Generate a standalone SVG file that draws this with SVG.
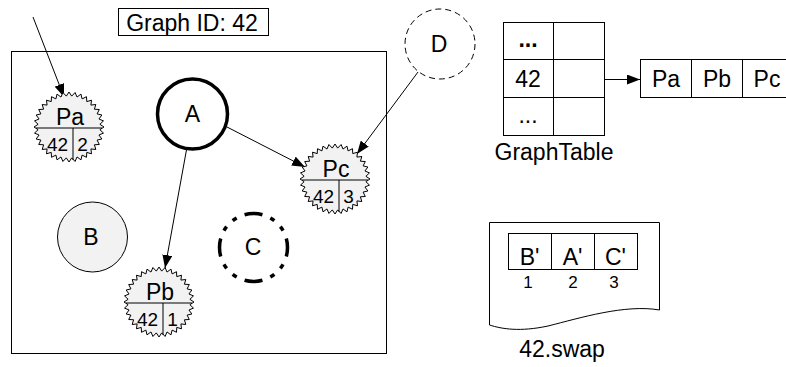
<svg xmlns="http://www.w3.org/2000/svg" xmlns:xlink="http://www.w3.org/1999/xlink" width="786" height="367" viewBox="0 0 786 367">
<style>
text{font-family:"Liberation Sans",Arial,sans-serif;fill:#000;text-anchor:middle}
.t22{font-size:23px}
.t18{font-size:19px}
.t16{font-size:17px}
.ln{stroke:#000;stroke-width:1;fill:none}
.box{stroke:#000;stroke-width:1;fill:#fff}
.burst{fill:#f2f2f2;stroke:#000;stroke-width:1}
.edge{stroke:#000;stroke-width:1;fill:none;marker-end:url(#arr)}
</style>
<defs>
<marker id="arr" markerWidth="14" markerHeight="10" refX="13" refY="5" orient="auto" markerUnits="userSpaceOnUse">
<path d="M0,0 L13,5 L0,10 Z" fill="#000"/>
</marker>
<polygon id="bp" class="burst" points="35,0 30.88,2.7 34.47,6.08 29.94,8.02 32.89,11.97 28.1,13.1 30.31,17.5 25.4,17.78 26.81,22.5 21.92,21.92 22.5,26.81 17.78,25.4 17.5,30.31 13.1,28.1 11.97,32.89 8.02,29.94 6.08,34.47 2.7,30.88 0,35 -2.7,30.88 -6.08,34.47 -8.02,29.94 -11.97,32.89 -13.1,28.1 -17.5,30.31 -17.78,25.4 -22.5,26.81 -21.92,21.92 -26.81,22.5 -25.4,17.78 -30.31,17.5 -28.1,13.1 -32.89,11.97 -29.94,8.02 -34.47,6.08 -30.88,2.7 -35,0 -30.88,-2.7 -34.47,-6.08 -29.94,-8.02 -32.89,-11.97 -28.1,-13.1 -30.31,-17.5 -25.4,-17.78 -26.81,-22.5 -21.92,-21.92 -22.5,-26.81 -17.78,-25.4 -17.5,-30.31 -13.1,-28.1 -11.97,-32.89 -8.02,-29.94 -6.08,-34.47 -2.7,-30.88 0,-35 2.7,-30.88 6.08,-34.47 8.02,-29.94 11.97,-32.89 13.1,-28.1 17.5,-30.31 17.78,-25.4 22.5,-26.81 21.92,-21.92 26.81,-22.5 25.4,-17.78 30.31,-17.5 28.1,-13.1 32.89,-11.97 29.94,-8.02 34.47,-6.08 30.88,-2.7"/>
<path id="bdiv" class="ln" d="M-33,1 H33 M4,1 V33"/>
</defs>

<!-- Graph ID label -->
<g id="graphid">
<rect class="box" x="118.5" y="8.5" width="150" height="27"/>
<text class="t22" x="192" y="31">Graph ID: 42</text>
</g>

<!-- main graph frame -->
<g id="frame">
<rect class="ln" x="11.5" y="51.5" width="375" height="302"/>
</g>

<!-- connectors -->
<g id="connectors">
<line class="edge" x1="33" y1="17" x2="64" y2="97"/>
<line class="edge" x1="227" y1="127" x2="305" y2="167"/>
<line class="edge" x1="187" y1="147" x2="165" y2="268"/>
<line class="edge" x1="418" y1="72" x2="357" y2="154"/>
<line class="edge" x1="577" y1="79.5" x2="640" y2="79.5"/>
</g>

<g id="A">
<circle cx="192.5" cy="114" r="35" fill="#fff" stroke="#000" stroke-width="3.5"/>
<text class="t22" x="192.5" y="122">A</text>
</g>

<g id="B">
<circle cx="92.5" cy="237" r="35" fill="#f2f2f2" stroke="#000" stroke-width="1"/>
<text class="t22" x="91" y="245">B</text>
</g>

<g id="C">
<circle cx="253.5" cy="247.5" r="34" fill="none" stroke="#000" stroke-width="3.5" pathLength="400" stroke-dasharray="34 16 9 16 9 16" stroke-dashoffset="17"/>
<text class="t22" x="253" y="255">C</text>
</g>

<g id="D">
<circle cx="440" cy="44" r="35" fill="#fff" stroke="#000" stroke-width="1" stroke-dasharray="6 4"/>
<text class="t22" x="439" y="52">D</text>
</g>

<g id="Pa" transform="translate(69,127)">
<use xlink:href="#bp"/>
<use xlink:href="#bdiv"/>
<text class="t22" x="1" y="-2">Pa</text>
<text class="t18" x="-11.5" y="24">42</text>
<text class="t18" x="13.5" y="24">2</text>
</g>

<g id="Pc" transform="translate(335,179)">
<use xlink:href="#bp"/>
<use xlink:href="#bdiv"/>
<text class="t22" x="1" y="-2">Pc</text>
<text class="t18" x="-11.5" y="24">42</text>
<text class="t18" x="13.5" y="24">3</text>
</g>

<g id="Pb" transform="translate(159,302)">
<use xlink:href="#bp"/>
<use xlink:href="#bdiv"/>
<text class="t22" x="1" y="-2">Pb</text>
<text class="t18" x="-11.5" y="24">42</text>
<text class="t18" x="13.5" y="24">1</text>
</g>

<g id="GraphTable">
<rect class="box" x="503.5" y="22.5" width="101" height="113"/>
<path class="ln" d="M553.5,22.5 V135.5 M503.5,59.5 H604.5 M503.5,97.5 H604.5"/>
<text class="t22" x="528" y="47" font-weight="bold">...</text>
<text class="t22" x="528" y="87">42</text>
<text class="t22" x="528" y="123">...</text>
<text class="t22" x="554" y="160">GraphTable</text>
</g>

<g id="PList">
<rect class="box" x="640.5" y="59.5" width="153" height="38"/>
<path class="ln" d="M691.5,59.5 V97.5 M742.5,59.5 V97.5"/>
<text class="t22" x="666" y="87">Pa</text>
<text class="t22" x="717" y="87">Pb</text>
<text class="t22" x="767" y="87">Pc</text>
</g>

<g id="swap">
<path class="box" d="M489.5,222.5 H659.5 V310 C625,304 580,318 548,326 C520,332 502,329 489.5,325 Z"/>
<rect class="box" x="508.5" y="233.5" width="129" height="36"/>
<path class="ln" d="M551.5,233.5 V269.5 M594.5,233.5 V269.5"/>
<text class="t22" x="529.5" y="265">B'</text>
<text class="t22" x="572.5" y="265">A'</text>
<text class="t22" x="615.5" y="265">C'</text>
<text class="t16" x="528" y="288">1</text>
<text class="t16" x="573" y="288">2</text>
<text class="t16" x="614" y="288">3</text>
<text class="t22" x="562" y="357">42.swap</text>
</g>
</svg>
